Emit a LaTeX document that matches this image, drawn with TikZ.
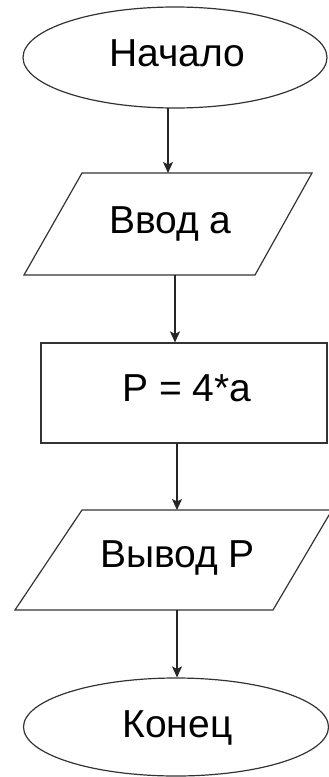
\documentclass[tikz,border=0pt]{standalone}
\usepackage{fontspec}
\setmainfont{Liberation Sans}
\usetikzlibrary{shapes.geometric,arrows.meta}
\begin{document}
\begin{tikzpicture}[x=1pt,y=-1pt,
  shape line/.style={draw=black!80,line width=1.2pt},
  label text/.style={anchor=base,inner sep=0pt,font=\fontsize{39}{44}\selectfont},
  arr/.style={draw=black!85,line width=1.2pt,-{Stealth[length=11pt,width=10pt,inset=2.5pt]}}]
\path[use as bounding box] (0,0) rectangle (329,777);
% start ellipse
\node[ellipse,shape line,minimum width=304pt,minimum height=101pt,inner sep=0pt] (start) at (175,57.5) {};
\node[label text] (tstart) at (177,66) {Начало};
% input parallelogram
\coordinate (p1tl) at (82,173);
\coordinate (p1tr) at (312,173);
\coordinate (p1br) at (255,275);
\coordinate (p1bl) at (24,275);
\draw[shape line,line join=miter] (p1tl) -- (p1tr) -- (p1br) -- (p1bl) -- cycle;
\node[label text] (tin) at (170.5,233) {Ввод а};
% process rectangle
\node[rectangle,shape line,minimum width=286pt,minimum height=100pt,inner sep=0pt] (calc) at (184,393) {};
\node[label text] (tcalc) at (187,401) {P = 4*a};
% output parallelogram
\coordinate (p2tl) at (82,510);
\coordinate (p2tr) at (332,510);
\coordinate (p2br) at (273,610);
\coordinate (p2bl) at (15,610);
\draw[shape line,line join=miter] (p2tl) -- (p2tr) -- (p2br) -- (p2bl) -- cycle;
\node[label text] (tout) at (177.5,567) {Вывод P};
% end ellipse
\node[ellipse,shape line,minimum width=305pt,minimum height=98pt,inner sep=0pt] (stop) at (176,727) {};
\node[label text] (tstop) at (177.5,737) {Конец};
% connectors
\coordinate (a1) at (168,108);
\coordinate (a2) at (175,275);
\coordinate (a3) at (177,443);
\coordinate (a4) at (177,610);
\draw[arr] (a1) -- (a1 |- p1tl);
\draw[arr] (a2) -- (a2 |- calc.north);
\draw[arr] (a3) -- (a3 |- p2tl);
\draw[arr] (a4) -- (a4 |- stop.north);
\end{tikzpicture}
\end{document}
